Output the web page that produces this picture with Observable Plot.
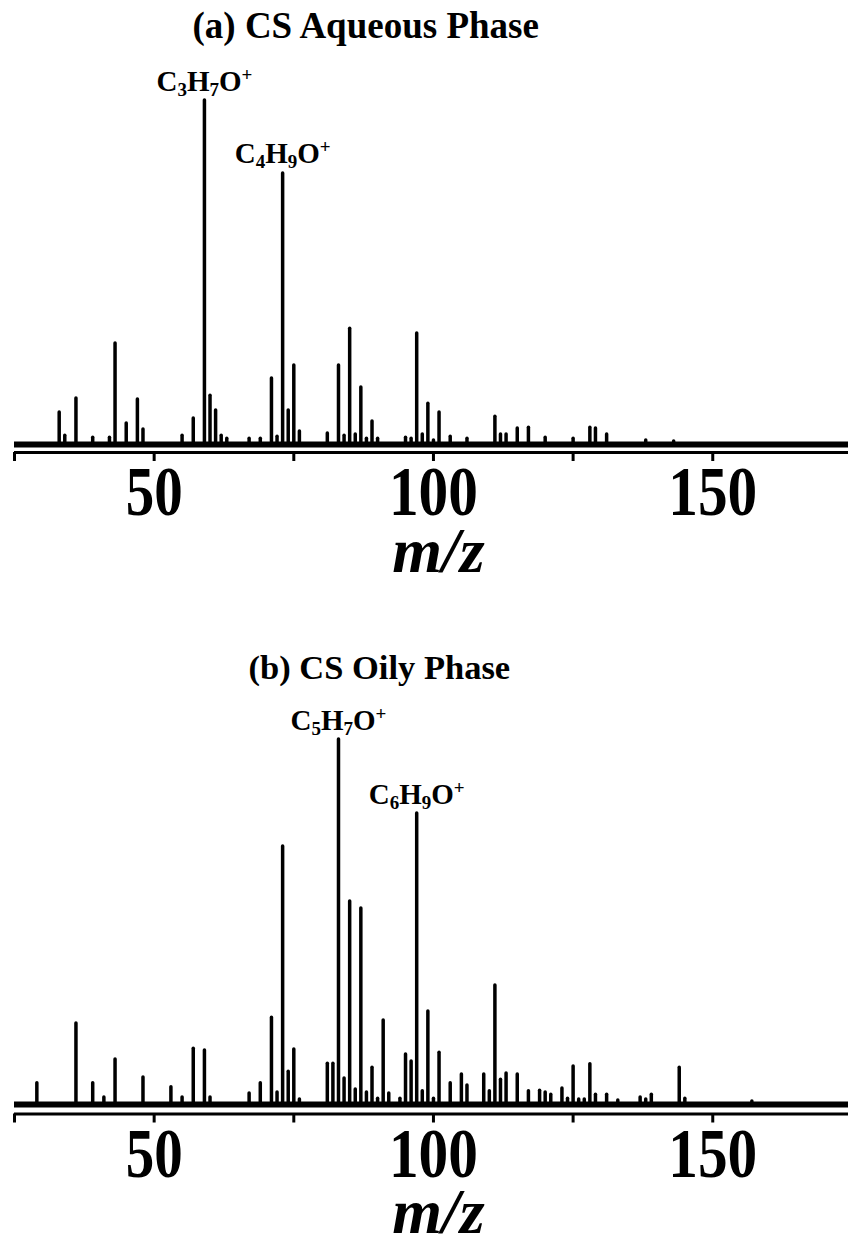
<!DOCTYPE html>
<html>
<head>
<meta charset="utf-8">
<script src="https://cdn.jsdelivr.net/npm/d3@7"></script>
<script src="https://cdn.jsdelivr.net/npm/@observablehq/plot@0.6"></script>
<style>
html, body { margin: 0; padding: 0; background: #fff; }
#chart svg { display: block; }
</style>
</head>
<body>
<div id="chart"></div>
<script>
// ---- data ----
const aqueousTitle = "(a) CS Aqueous Phase";
const aqueousMz = [33,34,36,39,42,43,45,47,48,55,57,59,60,61,62,63,67,69,71,72,73,74,75,76,81,83,84,85,86,87,88,89,90,95,96,97,98,99,100,101,103,106,111,112,113,115,117,120,125,128,129,131,138,143];
const aqueousIntensity = [9.3,2.6,13.4,2.0,2.0,29.4,6.1,13.1,4.4,2.6,7.6,100,14.2,9.9,2.6,1.7,1.7,1.7,19.2,2.3,78.8,9.9,23.0,3.8,3.2,23.0,2.6,33.7,2.9,16.6,1.7,6.7,1.7,2.0,1.7,32.3,2.9,11.9,1.2,9.3,2.3,1.7,8.1,2.9,2.9,4.7,4.9,2.0,1.7,4.9,4.7,2.9,1.2,0.9];
const aqueousLabelMz = [59, 73];
const aqueousLabelText = ["C3H7O+", "C4H9O+"];

const oilyTitle = "(b) CS Oily Phase";
const oilyMz = [29,36,39,41,43,48,53,55,57,59,60,67,69,71,72,73,74,75,76,81,82,83,84,85,86,87,88,89,90,91,92,94,95,96,97,98,99,100,101,103,105,106,109,110,111,112,113,115,117,119,120,121,123,124,125,126,127,128,129,131,133,137,138,139,144,145,157];
const oilyIntensity = [5.8,22.2,5.8,1.9,12.3,7.4,4.7,1.9,15.3,14.8,1.9,3.0,5.8,23.8,3.3,70.7,9.0,15.1,1.4,11.2,11.2,100,7.1,55.6,4.1,53.7,3.3,10.1,1.6,23.0,3.0,1.6,13.7,11.8,79.7,3.6,25.5,1.6,14.2,5.8,8.2,5.2,8.2,3.6,32.6,6.8,8.5,8.2,3.6,3.8,3.3,2.7,4.4,1.6,10.4,1.4,1.4,11.0,2.7,2.7,1.1,1.9,1.4,2.7,10.1,1.6,0.8];
const oilyLabelMz = [83, 97];
const oilyLabelText = ["C5H7O+", "C6H9O+"];

const xTicks = [25, 50, 75, 100, 125, 150];
const xTickLabels = ["", "50", "", "100", "", "150"];
const xLabel = "m/z";

// ---- rendering ----
const FONT = "'Liberation Serif', 'Times New Roman', Times, serif";
const SVGNS = "http://www.w3.org/2000/svg";

function formatFormula(textEl, base, small) {
  const s = textEl.textContent;
  textEl.textContent = "";
  const tokens = s.match(/[A-Z][a-z]?|\d+|\+/g) || [s];
  let shift = 0;
  for (const t of tokens) {
    const ts = document.createElementNS(SVGNS, "tspan");
    let target = 0, size = base;
    if (/^\d+$/.test(t)) { target = 5; size = small; }
    else if (t === "+") { target = -10; size = small; }
    ts.setAttribute("dy", target - shift);
    shift = target;
    ts.setAttribute("font-size", size);
    ts.textContent = t;
    textEl.appendChild(ts);
  }
}

function panel(o) {
  const peaks = o.mz.map((m, i) => ({mz: m, intensity: o.intensity[i]}));
  const labels = o.labelMz.map((m, i) => ({mz: m, intensity: o.intensity[o.mz.indexOf(m)], label: o.labelText[i]}));
  const svg = Plot.plot({
    width: 848,
    height: o.height,
    marginLeft: 14,
    marginRight: 0,
    marginTop: o.marginTop,
    marginBottom: o.marginBottom,
    x: {domain: [25, 174.3]},
    y: {domain: [o.yMin, 100], axis: null},
    style: {fontFamily: FONT, color: "#000", background: "#fff", overflow: "visible"},
    marks: [
      Plot.ruleX(peaks, {x: "mz", y1: 0, y2: "intensity", stroke: "#000", strokeWidth: 3.5, strokeLinecap: "round"}),
      Plot.ruleY([0], {stroke: "#000", strokeWidth: 6}),
      Plot.ruleY([o.yMin], {stroke: "#000", strokeWidth: 3}),
      Plot.axisX({ticks: xTicks, tickFormat: d => xTickLabels[xTicks.indexOf(d)], tickSize: 9, tickPadding: 4, strokeWidth: 3, fontSize: 70, fontWeight: "bold", label: null}),
      Plot.text([xLabel], {frameAnchor: "bottom", dx: 7, dy: o.xLabelDy, lineAnchor: "bottom", fontSize: 64, fontWeight: "bold", fontStyle: "italic"}),
      Plot.text([o.title], {frameAnchor: "top-left", textAnchor: "start", dx: o.titleDx, dy: o.titleDy, lineAnchor: "bottom", fontSize: o.titleSize, fontWeight: "bold"}),
      Plot.text(labels, {x: "mz", y: "intensity", text: "label", lineAnchor: "bottom", dy: -10, fontSize: 29, fontWeight: "bold"})
    ]
  });
  d3.select(svg).selectAll("text")
    .filter(function () { return o.labelText.includes(this.textContent); })
    .each(function () { formatFormula(this, 29, 19); });
  d3.select(svg).selectAll('g[aria-label="x-axis tick label"] text').each(function () {
    const n = this.textContent.length;
    if (n > 0) {
      this.setAttribute("textLength", n === 2 ? 57 : 89);
      this.setAttribute("lengthAdjust", "spacingAndGlyphs");
    }
  });
  return svg;
}

const chart = document.getElementById("chart");
chart.appendChild(panel({
  title: aqueousTitle, mz: aqueousMz, intensity: aqueousIntensity,
  labelMz: aqueousLabelMz, labelText: aqueousLabelText,
  height: 620, marginTop: 100, marginBottom: 168, yMin: -2.3,
  titleDx: 178, titleDy: -63, titleSize: 37, xLabelDy: 119
}));
chart.appendChild(panel({
  title: oilyTitle, mz: oilyMz, intensity: oilyIntensity,
  labelMz: oilyLabelMz, labelText: oilyLabelText,
  height: 619, marginTop: 119, marginBottom: 125.5, yMin: -2.6,
  titleDx: 234, titleDy: -61, titleSize: 34.5, xLabelDy: 119
}));
</script>
</body>
</html>
